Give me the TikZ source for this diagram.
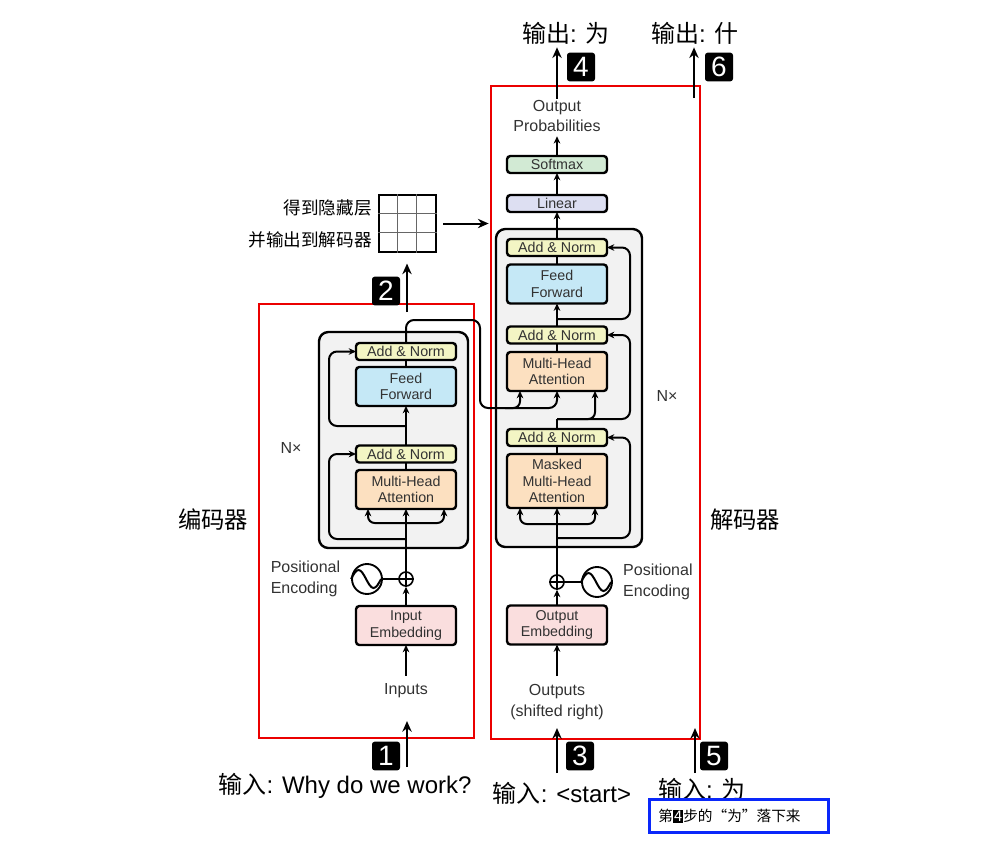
\documentclass[tikz,border=0pt]{standalone}
\usepackage{fontspec}
\setmainfont{Liberation Sans}
\newfontfamily\cjk{Noto Sans CJK SC}
\usetikzlibrary{positioning,arrows.meta,calc}

\definecolor{annorm}{RGB}{243,245,196}
\definecolor{ffblue}{RGB}{197,232,246}
\definecolor{attorange}{RGB}{252,224,192}
\definecolor{embpink}{RGB}{250,222,222}
\definecolor{softgreen}{RGB}{210,234,212}
\definecolor{linlav}{RGB}{221,223,242}
\definecolor{layergray}{RGB}{242,242,242}
\definecolor{txtgray}{RGB}{50,50,50}
\definecolor{noteblue}{RGB}{10,40,250}
\definecolor{framered}{RGB}{235,0,0}

\begin{document}
\begin{tikzpicture}[x=0.75pt,y=-0.75pt,
block/.style={draw=black, line width=1.8pt, rounded corners=2.5pt, minimum width=75pt, inner sep=0pt, outer sep=0pt, text=txtgray, font=\fontsize{10.7}{12.5}\selectfont, align=center},
anbox/.style={block, fill=annorm, minimum height=12.75pt},
tallbox/.style={block, minimum height=29.25pt},
layer/.style={draw=black, line width=1.8pt, rounded corners=7pt, fill=layergray, inner sep=0pt},
frame/.style={draw=framered, line width=1.6pt, inner sep=0pt},
lbl/.style={text=txtgray, font=\fontsize{12}{15.5}\selectfont, inner sep=0pt, align=center},
zh/.style={inner sep=0pt, font=\cjk\fontsize{17.5}{20}\selectfont},
io/.style={inner sep=0pt, font=\fontsize{18}{20}\selectfont},
numbadge/.style={fill=black, rounded corners=2pt, text=white, minimum width=21pt, minimum height=21.5pt, inner sep=0pt, font=\fontsize{21}{21}\selectfont},
flow/.style={line width=1.5pt, -{Stealth[length=5.5pt,width=5pt]}},
link/.style={line width=1.5pt},
bigflow/.style={line width=1.5pt, -{Stealth[length=8pt,width=7pt]}}]
\useasboundingbox (0,0) rectangle (1000,843);

% red frames
\node[frame, minimum width=161.25pt, minimum height=325.5pt] (enc_frame) at (366.5,521) {};
\node[frame, minimum width=156.75pt, minimum height=489.75pt] (dec_frame) at (595.5,412.5) {};

% encoder
\node[layer, minimum width=111.75pt, minimum height=162pt] (enc_layer) at (393.5,440) {};
\node[tallbox, fill=embpink] (enc_emb) at (406,625.5) {Input\\Embedding};
\node[tallbox, fill=attorange] (enc_mha) at (406,489.5) {Multi-Head\\Attention};
\node[anbox] (enc_an1) at (406,454) {Add \& Norm};
\node[tallbox, fill=ffblue] (enc_ff) at (406,386.5) {Feed\\Forward};
\node[anbox] (enc_an2) at (406,351.5) {Add \& Norm};
\node[circle, draw, line width=1.2pt, minimum size=10.5pt, inner sep=0pt] (enc_plus) at (406,579) {};
\node[circle, draw, line width=1.4pt, minimum size=22.5pt, inner sep=0pt] (enc_pe) at (367,579) {};
\node[lbl, align=left] (enc_pe_lbl) [left=8pt of enc_pe] {Positional\\Encoding};
\node[lbl] (enc_in) at (406,691) {Inputs};
\node[lbl] (enc_nx) at (291,448) {N×};

\draw[link] (enc_plus.north) -- (enc_plus.south) (enc_plus.west) -- (enc_plus.east);
\draw[link] (enc_pe.west) sin ++(7.5,-9) cos ++(7.5,9) sin ++(7.5,9) cos ++(7.5,-9);
\draw[link] (enc_pe.east) -- (enc_plus.west);
\draw[flow, shorten <=6pt] (enc_in.north) -- (enc_emb.south);
\draw[flow] (enc_emb.north) -- (enc_plus.south);
\draw[flow] (enc_plus.north) -- (enc_mha.south);
\coordinate (enc_fork) at (406,523);
\draw[flow, rounded corners=5pt] (enc_fork) -- ($(enc_fork)+(-38,0)$) -- ($(enc_mha.south)+(-38,0)$);
\draw[flow, rounded corners=5pt] (enc_fork) -- ($(enc_fork)+(38,0)$) -- ($(enc_mha.south)+(38,0)$);
\coordinate (enc_tap1) at (406,539);
\coordinate (enc_tap2) at (406,426);
\draw[flow, rounded corners=6pt] (enc_tap1) -- (329,539) -- (329,454) -- (enc_an1.west);
\draw[flow, rounded corners=6pt] (enc_tap2) -- (329,426) -- (329,351.5) -- (enc_an2.west);
\draw[link] (enc_mha.north) -- (enc_an1.south);
\draw[flow] (enc_an1.north) -- (enc_ff.south);
\draw[link] (enc_ff.north) -- (enc_an2.south);

% decoder
\node[layer, minimum width=109.5pt, minimum height=238.5pt] (dec_layer) at (569,388) {};
\node[tallbox, fill=embpink] (dec_emb) at (557,625) {Output\\Embedding};
\node[block, fill=attorange, minimum height=40.5pt] (dec_mmha) at (557,481) {Masked\\Multi-Head\\Attention};
\node[anbox] (dec_an1) at (557,437.5) {Add \& Norm};
\node[tallbox, fill=attorange] (dec_mha) at (557,371.5) {Multi-Head\\Attention};
\node[anbox] (dec_an2) at (557,335) {Add \& Norm};
\node[tallbox, fill=ffblue] (dec_ff) at (557,284) {Feed\\Forward};
\node[anbox] (dec_an3) at (557,247.5) {Add \& Norm};
\node[anbox, fill=linlav] (dec_lin) at (557,203.5) {Linear};
\node[anbox, fill=softgreen] (dec_soft) at (557,164.5) {Softmax};
\node[lbl] (outprob) at (557,116) {Output\\Probabilities};
\node[circle, draw, line width=1.2pt, minimum size=10.5pt, inner sep=0pt] (dec_plus) at (557,582) {};
\node[circle, draw, line width=1.4pt, minimum size=22.5pt, inner sep=0pt] (dec_pe) at (597,582) {};
\node[lbl, align=left] (dec_pe_lbl) [right=7.5pt of dec_pe] {Positional\\Encoding};
\node[lbl] (dec_in) at (557,702) {Outputs\\(shifted right)};
\node[lbl] (dec_nx) at (667,396) {N×};

\draw[link] (dec_plus.north) -- (dec_plus.south) (dec_plus.west) -- (dec_plus.east);
\draw[link] (dec_pe.west) sin ++(7.5,-9) cos ++(7.5,9) sin ++(7.5,9) cos ++(7.5,-9);
\draw[link] (dec_pe.west) -- (dec_plus.east);
\draw[flow, shorten <=6pt] (dec_in.north) -- (dec_emb.south);
\draw[flow] (dec_emb.north) -- (dec_plus.south);
\draw[flow] (dec_plus.north) -- (dec_mmha.south);
\coordinate (dec_fork) at (557,524);
\draw[flow, rounded corners=5pt] (dec_fork) -- ($(dec_fork)+(-37,0)$) -- ($(dec_mmha.south)+(-37,0)$);
\draw[flow, rounded corners=5pt] (dec_fork) -- ($(dec_fork)+(38,0)$) -- ($(dec_mmha.south)+(38,0)$);
\coordinate (dec_tap1) at (557,538);
\coordinate (dec_tap2) at (557,419);
\coordinate (dec_tap3) at (557,319);
\draw[flow, rounded corners=6pt] (dec_tap1) -- (630,538) -- (630,437.5) -- (dec_an1.east);
\draw[link] (dec_mmha.north) -- (dec_an1.south);
\draw[link] (dec_an1.north) -- (dec_tap2);
\draw[flow, rounded corners=5pt] (dec_tap2) -- (595,419) -- ($(dec_mha.south)+(38,0)$);
\draw[flow, rounded corners=6pt] (dec_tap2) -- (630,419) -- (630,335) -- (dec_an2.east);
\draw[link] (dec_mha.north) -- (dec_an2.south);
\draw[flow] (dec_an2.north) -- (dec_ff.south);
\draw[flow, rounded corners=6pt] (dec_tap3) -- (630,319) -- (630,247.5) -- (dec_an3.east);
\draw[link] (dec_ff.north) -- (dec_an3.south);
\draw[flow] (dec_an3.north) -- (dec_lin.south);
\draw[flow] (dec_lin.north) -- (dec_soft.south);
\draw[flow, shorten >=3pt] (dec_soft.north) -- (outprob.south);

% encoder output into decoder
\draw[flow, rounded corners=6pt] (enc_an2.north) -- (406,320) -- (480,320) -- (480,408) -- (557,408) -- (dec_mha.south);
\draw[flow, rounded corners=5pt] (505,408) -- (520,408) -- ($(dec_mha.south)+(-37,0)$);

% hidden state grid
\node[draw, line width=0.8pt, minimum size=42.75pt, inner sep=0pt] (hid) at (407.5,223.5) {};
\foreach \k in {1,2} {
  \draw[black!60, line width=0.6pt] ($(hid.north west)+(19*\k,0)$) -- ($(hid.south west)+(19*\k,0)$);
  \draw[black!60, line width=0.6pt] ($(hid.north west)+(0,19*\k)$) -- ($(hid.north east)+(0,19*\k)$);
}
\node[inner sep=0pt, anchor=east, font=\cjk\fontsize{13.2}{15}\selectfont] (hid_l1) at (372,208) {得到隐藏层};
\node[inner sep=0pt, anchor=east, font=\cjk\fontsize{13.2}{15}\selectfont] (hid_l2) at (372,240) {并输出到解码器};
\draw[bigflow, shorten <=5pt, shorten >=1pt] (hid.east) -- (dec_frame.west |- hid.east);

% side names
\node[zh] (enc_name) at (213,520) {编码器};
\node[zh] (dec_name) at (745,520) {解码器};

% steps
\node[io] (in1) at (345,786) {{\cjk 输入}: Why do we work?};
\node[io] (in2) at (562,793) {{\cjk 输入}: <start>};
\node[io] (in3) at (702,789) {{\cjk 输入}: {\cjk 为}};
\node[io] (out1) at (566,33) {{\cjk 输出}: {\cjk 为}};
\node[io] (out2) at (695,33) {{\cjk 输出}: {\cjk 什}};

\node[numbadge] (b1) at (386,756) {1};
\node[numbadge] (b2) at (386,291) {2};
\node[numbadge] (b3) at (580,756) {3};
\node[numbadge] (b4) at (581,67) {4};
\node[numbadge] (b5) at (714,756) {5};
\node[numbadge] (b6) at (719,67) {6};

\coordinate (a1s) at (407,767);
\coordinate (a2s) at (407,312);
\coordinate (a3s) at (557,773);
\coordinate (a5s) at (695,773);
\coordinate (a6s) at (694,98);
\draw[bigflow] (a1s) -- ($(enc_frame.south -| a1s)+(0,-18)$);
\draw[bigflow] (a2s) -- ($(hid.south -| a2s)+(0,11)$);
\draw[bigflow] (a3s) -- ($(dec_frame.south -| a3s)+(0,-12)$);
\draw[bigflow] (a5s) -- ($(dec_frame.south -| a5s)+(0,-12)$);
\draw[bigflow] ($(outprob.north)+(0,-1)$) -- ($(outprob.north |- out1.south)+(0,3)$);
\draw[bigflow] (a6s) -- ($(a6s |- out2.south)+(0,3)$);

% note
\node[draw=noteblue, line width=2.6pt, text width=121pt, inner xsep=6.75pt, minimum height=24.75pt, inner ysep=0pt, align=left, font=\cjk\fontsize{11}{13}\selectfont] (note) at (739,816) {第{\fboxsep=0.8pt\colorbox{black}{\textcolor{white}{4}}}步的“为”落下来};
\end{tikzpicture}
\end{document}
